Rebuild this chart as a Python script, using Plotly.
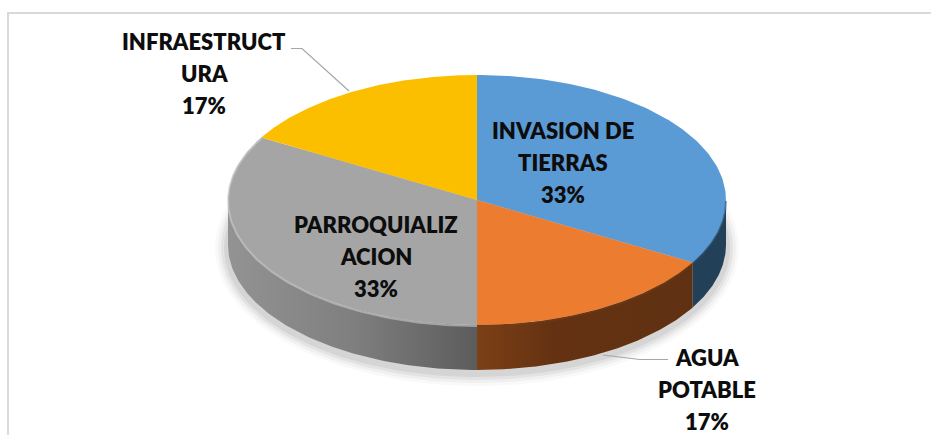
import numpy as np
import plotly.graph_objects as go

categories = [["INVASION DE", "TIERRAS"], ["AGUA", "POTABLE"], ["PARROQUIALIZ", "ACION"], ["INFRAESTRUCT", "URA"]]
values = [33.33, 16.67, 33.33, 16.67]
percents = ["33%", "17%", "33%", "17%"]
top_colors = ["#5B9BD5", "#EB7C30", "#A5A5A5", "#FCBF00"]
side_scales = [
    [[0, "#234059"], [1, "#234059"]],
    [[0, "#7c4016"], [0.35, "#643212"], [1, "#5f3112"]],
    [[0, "#939393"], [0.5, "#7f7f7f"], [1, "#5c5c5c"]],
    [[0, "#806000"], [1, "#806000"]],
]

CX, CY, RX, RY, DEPTH = 477, 200, 249, 125, 45
W, H = 931, 435


def pt(deg, dy=0, k=1.0):
    a = np.radians(deg)
    return CX + k * RX * np.sin(a), CY - k * RY * np.cos(a) + dy


fig = go.Figure()

# soft shadow beneath the disc
ang = np.linspace(0, 360, 181)
for grow, alpha in [(13, 0.025), (10, 0.035), (7, 0.05), (4, 0.06)]:
    x, y = pt(ang, DEPTH + 3)
    fig.add_trace(go.Scatter(
        x=CX + (x - CX) * (RX + grow) / RX, y=CY + DEPTH + 3 + (y - CY - DEPTH - 3) * (RY + grow) / RY,
        mode="lines", line=dict(width=0), fill="toself",
        fillcolor=f"rgba(0,0,0,{alpha})", hoverinfo="skip", showlegend=False))

total = sum(values)
edges = np.cumsum([0] + values) / total * 360

# side walls: only the front half (90..270 deg) is visible
for i in range(len(values)):
    a0, a1 = max(edges[i], 90), min(edges[i + 1], 270)
    if a1 <= a0:
        continue
    t = np.linspace(a0, a1, 80)
    xt, yt = pt(t)
    xb, yb = pt(t[::-1], DEPTH)
    fig.add_trace(go.Scatter(
        x=np.r_[xt, xb], y=np.r_[yt, yb], mode="lines", line=dict(width=0),
        fill="toself", fillgradient=dict(type="horizontal", colorscale=side_scales[i]),
        hoverinfo="skip", showlegend=False))

# top faces
for i in range(len(values)):
    t = np.linspace(edges[i], edges[i + 1], 120)
    xt, yt = pt(t)
    fig.add_trace(go.Scatter(
        x=np.r_[CX, xt, CX], y=np.r_[CY, yt, CY], mode="lines",
        line=dict(width=0), fill="toself", fillcolor=top_colors[i],
        hoverinfo="skip", showlegend=False))

# bevel highlight on the gray slice rim
t = np.linspace(edges[2], edges[3], 120)
xt, yt = pt(t, 1)
fig.add_trace(go.Scatter(x=xt, y=yt, mode="lines", line=dict(color="rgba(205,205,205,0.6)", width=2),
                         hoverinfo="skip", showlegend=False))
# blurred dark edges on the coloured rims
for i, col in [(0, "rgba(45,85,120,0.55)"), (1, "rgba(120,60,20,0.55)")]:
    t = np.linspace(max(edges[i], 90), min(edges[i + 1], 180), 60)
    xt, yt = pt(t, 1)
    fig.add_trace(go.Scatter(x=xt, y=yt, mode="lines", line=dict(color=col, width=2),
                             hoverinfo="skip", showlegend=False))

# leader lines
fig.add_trace(go.Scatter(x=[291, 302, 349], y=[48.5, 48.5, 91], mode="lines",
                         line=dict(color="#a6a6a6", width=1.2), hoverinfo="skip", showlegend=False))
fig.add_trace(go.Scatter(x=[603, 640, 668], y=[355, 359.5, 359.5], mode="lines",
                         line=dict(color="#a6a6a6", width=1.2), hoverinfo="skip", showlegend=False))

label_x = [563, 707, 376, 204]
label_y = [130, 357, 224, 41]
LINE_GAP = 32
for name, pct, lx, ly in zip(categories, percents, label_x, label_y):
    for j, line in enumerate(name + [pct]):
        fig.add_annotation(x=lx, y=ly + j * LINE_GAP, text=line, showarrow=False,
                           xanchor="center", yanchor="middle", align="center",
                           font=dict(family="Lato", size=22, color="#0d0d0d", weight=800))

# chart frame
fig.add_shape(type="rect", x0=8, y0=13, x1=W + 5, y1=H + 5, line=dict(color="#d9d9d9", width=2),
              fillcolor="rgba(0,0,0,0)", layer="below")

fig.update_layout(
    width=W, height=H, margin=dict(l=0, r=0, t=0, b=0), paper_bgcolor="white", plot_bgcolor="white",
    xaxis=dict(range=[0, W], visible=False, fixedrange=True),
    yaxis=dict(range=[H, 0], visible=False, fixedrange=True),
    showlegend=False)
fig.write_html("out.html", config={"displayModeBar": False},
               post_script="document.body.style.margin='0';document.documentElement.style.overflow='hidden';")
